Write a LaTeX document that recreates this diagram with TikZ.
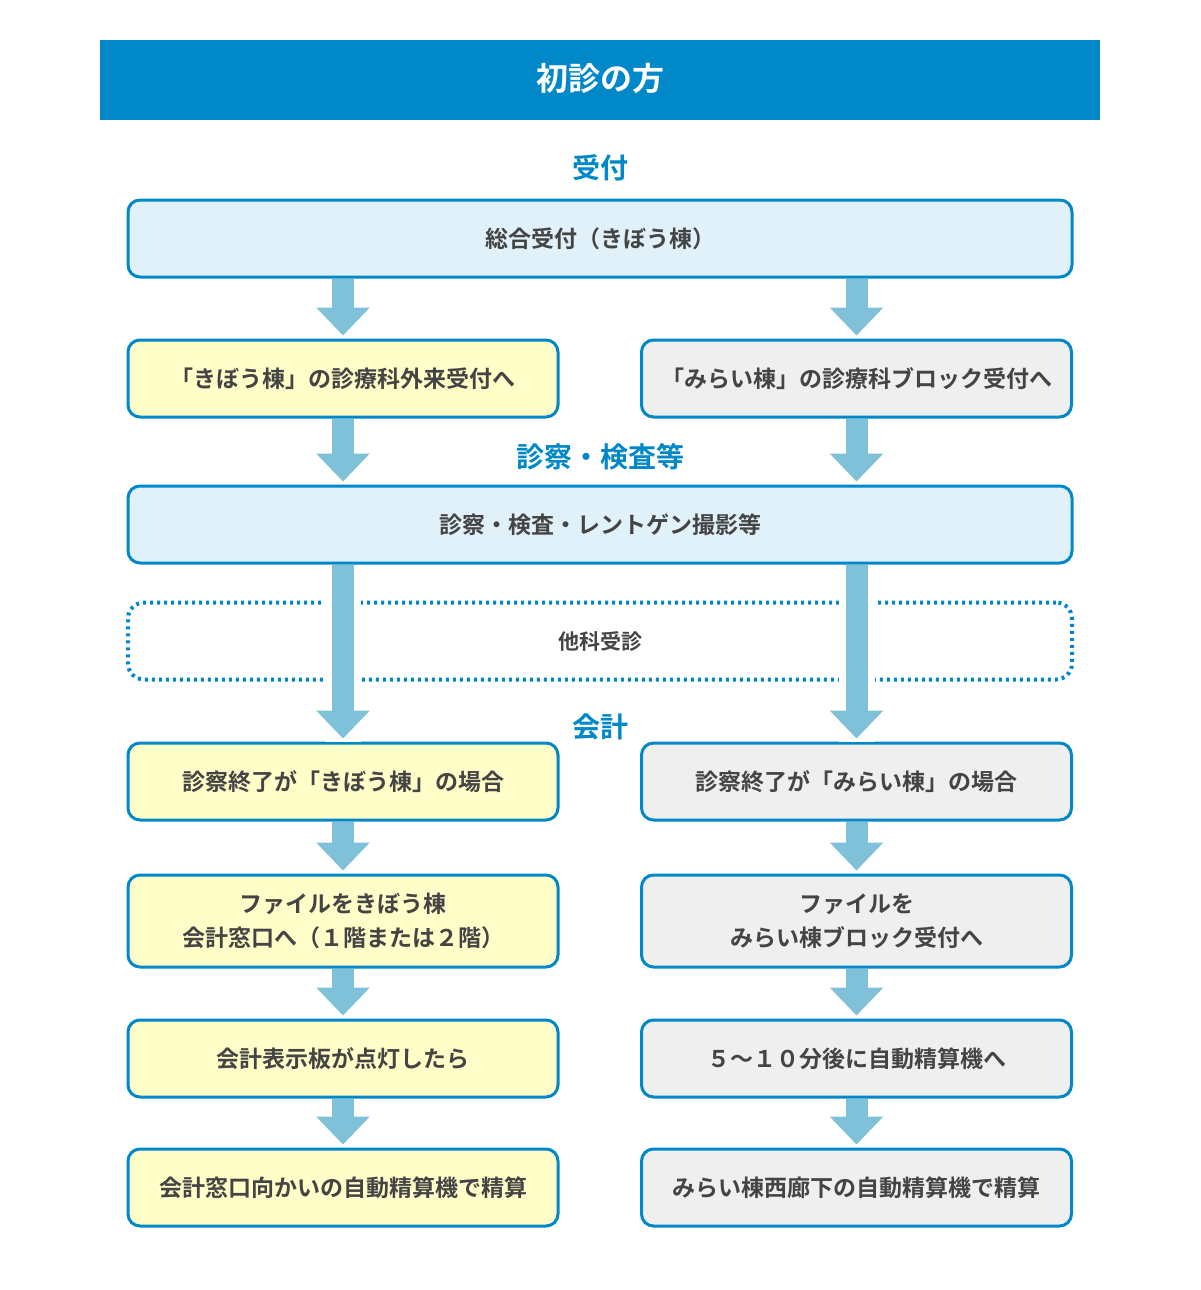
\documentclass[tikz,border=0pt]{standalone}
\usepackage{fontspec}
\setmainfont{Noto Sans CJK JP}[BoldFont={* Bold}]
\usetikzlibrary{arrows.meta}
\definecolor{mainblue}{HTML}{0088C8}
\definecolor{arrowblue}{HTML}{7FC1D9}
\definecolor{boxblue}{HTML}{E0F1F9}
\definecolor{boxyellow}{HTML}{FFFDC8}
\definecolor{boxgray}{HTML}{EFEFEF}
\definecolor{textgray}{HTML}{444444}
\tikzset{
  stepbox/.style={draw=mainblue, line width=1.5pt, rounded corners=6pt, minimum height=38.5pt,
    align=center, text=textgray, font=\bfseries\fontsize{11.5}{17}\selectfont},
  widebox/.style={stepbox, fill=boxblue, minimum width=472pt},
  leftbox/.style={stepbox, fill=boxyellow, minimum width=215pt},
  rightbox/.style={stepbox, fill=boxgray, minimum width=215pt},
  heading/.style={text=mainblue, font=\bfseries\fontsize{14}{16}\selectfont},
  fatarrow/.style={draw=arrowblue, line width=11pt, shorten >=1.5pt,
    -{Triangle[width=26pt,length=14pt]}},
}
\begin{document}
\begin{tikzpicture}[x=0.5pt,y=-0.5pt]
        \useasboundingbox (0,0) rectangle (1200,1290);
        \fill[mainblue] (100,40) rectangle (1100,120);
        \node[text=white, font=\bfseries\fontsize{16}{18}\selectfont] (title) at (600,78) {初診の方};

        \node[heading] (h1) at (600,168) {受付};
        \node[widebox] (reception) at (600,238.5) {総合受付（きぼう棟）};
        \node[leftbox] (kiboRecep) at (343,378.5) {「きぼう棟」の診療科外来受付へ};
        \node[rightbox] (miraiRecep) at (856.5,378.5) {「みらい棟」の診療科ブロック受付へ};

        \node[heading] (h2) at (600,457) {診察・検査等};
        \node[widebox] (exam) at (600,524.5) {診察・検査・レントゲン撮影等};
        \node[stepbox, draw=mainblue, dotted, line width=2pt, rounded corners=8pt, minimum width=472pt,
          font=\bfseries\fontsize{10.5}{14}\selectfont] (other) at (600,641) {他科受診};

        \node[heading] (h3) at (600,727) {会計};
        \node[leftbox] (kiboEnd) at (343,781.5) {診察終了が「きぼう棟」の場合};
        \node[rightbox] (miraiEnd) at (856.5,781.5) {診察終了が「みらい棟」の場合};
        \node[leftbox, minimum height=46pt] (kiboFile) at (343,921) {ファイルをきぼう棟\\会計窓口へ（１階または２階）};
        \node[rightbox, minimum height=46pt] (miraiFile) at (856.5,921) {ファイルを\\みらい棟ブロック受付へ};
        \node[leftbox] (kiboLamp) at (343,1058.5) {会計表示板が点灯したら};
        \node[rightbox] (miraiWait) at (856.5,1058.5) {５～１０分後に自動精算機へ};
        \node[leftbox] (kiboPay) at (343,1187.5) {会計窓口向かいの自動精算機で精算};
        \node[rightbox] (miraiPay) at (856.5,1187.5) {みらい棟西廊下の自動精算機で精算};

        % arrows
        \draw[fatarrow] (reception.south -| kiboRecep) -- (kiboRecep.north);
        \draw[fatarrow] (reception.south -| miraiRecep) -- (miraiRecep.north);
        \draw[fatarrow] (kiboRecep.south) -- (exam.north -| kiboRecep);
        \draw[fatarrow] (miraiRecep.south) -- (exam.north -| miraiRecep);
        \draw[white, line width=18pt] (exam.south -| kiboEnd) -- (kiboEnd.north);
        \draw[white, line width=18pt] (exam.south -| miraiEnd) -- (miraiEnd.north);
        \draw[fatarrow] (exam.south -| kiboEnd) -- (kiboEnd.north);
        \draw[fatarrow] (exam.south -| miraiEnd) -- (miraiEnd.north);
        \foreach \a/\b in {kiboEnd/kiboFile, kiboFile/kiboLamp, kiboLamp/kiboPay,
                           miraiEnd/miraiFile, miraiFile/miraiWait, miraiWait/miraiPay}
          \draw[fatarrow] (\a.south) -- (\b.north);
\end{tikzpicture}
\end{document}
